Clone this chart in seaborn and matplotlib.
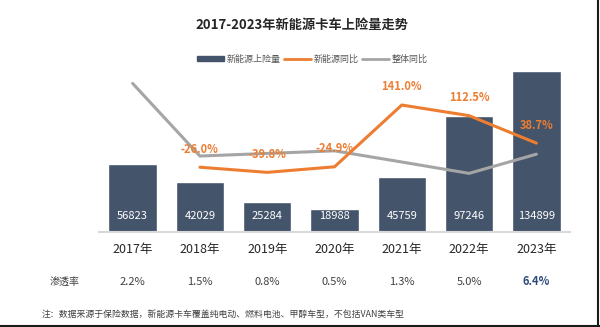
import matplotlib
matplotlib.use("Agg")
import matplotlib.pyplot as plt
import seaborn as sns
import pandas as pd
from matplotlib.lines import Line2D
from matplotlib.patches import Patch

years = ["2017年", "2018年", "2019年", "2020年", "2021年", "2022年", "2023年"]
nev_volume = [56823, 42029, 25284, 18988, 45759, 97246, 134899]
nev_yoy = [None, -26.0, -39.8, -24.9, 141.0, 112.5, 38.7]
total_yoy = [199.0, 4.0, 11.0, 18.0, -12.0, -42.5, 9.0]
penetration = ["2.2%", "1.5%", "0.8%", "0.5%", "1.3%", "5.0%", "6.4%"]

sns.set_theme(style="white")
plt.rcParams['font.family'] = ['Noto Sans CJK SC', 'DejaVu Sans']

BAR = "#44546A"
ORANGE = "#ED7D31"
GRAY = "#A5A5A5"

df = pd.DataFrame({"year": years, "vol": nev_volume})
fig = plt.figure(figsize=(6.0, 3.27), dpi=100)
ax = fig.add_axes([0.165, 0.2905, 0.785, 0.5107])
sns.barplot(data=df, x="year", y="vol", color=BAR, width=0.72, ax=ax, saturation=1)
ax.set_xlim(-0.5, 6.5)
ax.set_ylim(0, 139930)
ax.set_xlabel("")
ax.set_ylabel("")
ax.set_xticks([])
ax.set_yticks([])
for s in ["top", "right", "left"]:
    ax.spines[s].set_visible(False)
ax.spines["bottom"].set_color("#D9D9D9")
ax.spines["bottom"].set_linewidth(1.5)

for i, v in enumerate(nev_volume):
    ax.text(i, 13000, f"{v}", ha="center", va="center", color="white", fontsize=8)

ax2 = ax.twinx()
ax2.set_ylim(-200, 248.5)
xs = list(range(len(years)))
ax2.plot(xs, total_yoy, color=GRAY, lw=2.2)
ox = [i for i, v in enumerate(nev_yoy) if v is not None]
oy = [v for v in nev_yoy if v is not None]
ax2.plot(ox, oy, color=ORANGE, lw=2.2)
for x, v in zip(ox, oy):
    ax2.annotate(f"{v:.1f}%", (x, v), xytext=(0, 13), textcoords="offset points",
                 ha="center", va="center", color=ORANGE, fontsize=8, fontweight="bold")
ax2.set_yticks([])
for s in ["top", "right", "left", "bottom"]:
    ax2.spines[s].set_visible(False)

# title
fig.text(301.7/600, 1-25/327, "2017-2023年新能源卡车上险量走势", ha="center", va="center",
         fontsize=9.5, fontweight="bold", color="#262626")

# legend
handles = [Patch(facecolor=BAR, edgecolor=BAR),
           Line2D([0], [0], color=ORANGE, lw=2),
           Line2D([0], [0], color=GRAY, lw=2)]
fig.legend(handles, ["新能源上险量", "新能源同比", "整体同比"], loc="center",
           bbox_to_anchor=(312.5/600, 1-59/327), ncol=3, frameon=False, fontsize=6.5,
           handlelength=3.0, handleheight=0.45, columnspacing=0.3, handletextpad=0.35,
           labelcolor="#595959")

# year labels and penetration row
for i, (y, p) in enumerate(zip(years, penetration)):
    xd = ax.transData.transform((i, 0))[0]
    xf = fig.transFigure.inverted().transform((xd, 0))[0]
    fig.text(xf, 1-250/327, y, ha="center", va="center", fontsize=9, color="#262626")
    last = i == len(years) - 1
    fig.text(xf, 1-281.7/327, p, ha="center", va="center", fontsize=8,
             color="#2F4B7C" if last else "#404040",
             fontweight="bold" if last else "normal")
fig.text(65/600, 1-281.7/327, "渗透率", ha="center", va="center", fontsize=7.2, color="#404040")

fig.text(42/600, 1-314/327, "注：数据来源于保险数据，新能源卡车覆盖纯电动、燃料电池、甲醇车型，不包括VAN类车型",
         ha="left", va="center", fontsize=6.4, color="#404040")

# border lines bottom and right
fig.add_artist(Line2D([0, 1], [0.003, 0.003], transform=fig.transFigure, color="#1a1a1a", lw=1.5))
fig.add_artist(Line2D([0.997, 0.997], [0, 1], transform=fig.transFigure, color="#1a1a1a", lw=1.5))

fig.savefig("out.png", dpi=100)
